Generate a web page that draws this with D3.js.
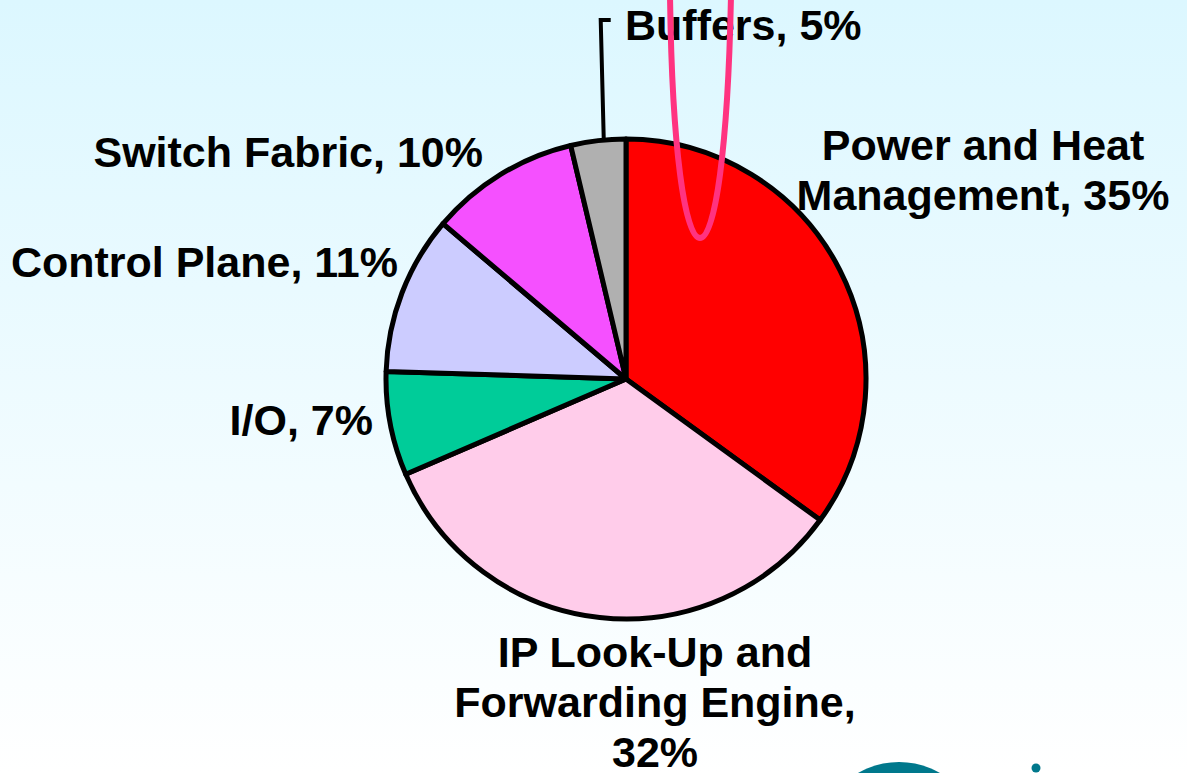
<!DOCTYPE html>
<html>
<head>
<meta charset="utf-8">
<script src="https://cdn.jsdelivr.net/npm/d3@7"></script>
<style>
  html, body { margin: 0; padding: 0; overflow: hidden; }
  svg { display: block; }
  text { font-family: "Liberation Sans", Arial, sans-serif; font-weight: bold; fill: #000; }
</style>
</head>
<body>
<svg id="pieChart" width="1187" height="773"></svg>
<script>
// data, clockwise from 12 o'clock
var categories = ["Power and Heat Management", "IP Look-Up and Forwarding Engine", "I/O",
                  "Control Plane", "Switch Fabric", "Buffers"];
var values = [35, 33.5, 7, 10.7, 10.1, 3.7];          // slice sizes as drawn
var labelLines = [
    ["Power and Heat", "Management, 35%"],
    ["IP Look-Up and", "Forwarding Engine,", "32%"],
    ["I/O, 7%"],
    ["Control Plane, 11%"],
    ["Switch Fabric, 10%"],
    ["Buffers, 5%"]
];
var colors = ["#ff0000", "#ffccea", "#00cc99", "#ccccff", "#f550ff", "#b0b0b0"];

// label placement relative to the pie centre (dx, dy of first baseline, anchor)
var labelLayout = [
    [357, -219, "middle"],
    [29, 288, "middle"],
    [-253, 56, "end"],
    [-228, -102, "end"],
    [-143, -212, "end"],
    [-1, -339, "start"]
];

var svg = d3.select("svg#pieChart"),
    width = +svg.attr("width"),
    height = +svg.attr("height"),
    cx = 626, cy = 379,
    radius = 240,
    lineH = 50;

// background
var defs = svg.append("defs");
var grad = defs.append("linearGradient")
    .attr("id", "bg")
    .attr("x1", 0).attr("y1", 0).attr("x2", 0).attr("y2", 1);
grad.append("stop").attr("offset", "0%").attr("stop-color", "#dcf7ff");
grad.append("stop").attr("offset", "100%").attr("stop-color", "#ffffff");

svg.append("rect")
    .attr("width", width)
    .attr("height", height)
    .attr("fill", "url(#bg)");

// logo bits bottom right
svg.append("circle")
    .attr("cx", 899).attr("cy", 844).attr("r", 82)
    .attr("fill", "#00788c");
svg.append("circle")
    .attr("cx", 1036).attr("cy", 768).attr("r", 4.5)
    .attr("fill", "#00788c");

var pie = d3.pie().sort(null).value(function (d) { return d; });
var arc = d3.arc().innerRadius(0).outerRadius(radius);
var arcs = pie(values);

var g = svg.append("g")
    .attr("transform", "translate(" + cx + "," + cy + ")");

g.selectAll("path.slice")
    .data(arcs)
    .enter()
    .append("path")
    .attr("class", "slice")
    .attr("d", arc)
    .attr("fill", function (d, i) { return colors[i]; })
    .attr("stroke", "#000")
    .attr("stroke-width", 5)
    .attr("stroke-linejoin", "round");

// leader line for the buffers slice
var b = arcs[5],
    a = b.startAngle + (b.endAngle - b.startAngle) * 0.6,
    lx = Math.sin(a) * radius,
    ly = -Math.cos(a) * radius;
g.append("path")
    .attr("d", "M" + lx + "," + (ly - 2) + "L" + (lx - 3) + "," + (-359) + "L" + (lx + 7) + "," + (-359))
    .attr("fill", "none")
    .attr("stroke", "#000")
    .attr("stroke-width", 4);

// labels
labelLines.forEach(function (lines, i) {
    var t = g.append("text")
        .attr("x", labelLayout[i][0])
        .attr("y", labelLayout[i][1])
        .attr("text-anchor", labelLayout[i][2])
        .style("font-size", "43px");
    lines.forEach(function (s, j) {
        t.append("tspan")
            .attr("x", labelLayout[i][0])
            .attr("dy", j === 0 ? 0 : lineH)
            .text(s);
    });
});

// pink hand drawn marker
svg.append("path")
    .attr("d", "M670,-5 C672,150 685,238 700,238 C715,238 728,150 731,-5")
    .attr("fill", "none")
    .attr("stroke", "#ff3380")
    .attr("stroke-width", 6);
</script>
</body>
</html>
